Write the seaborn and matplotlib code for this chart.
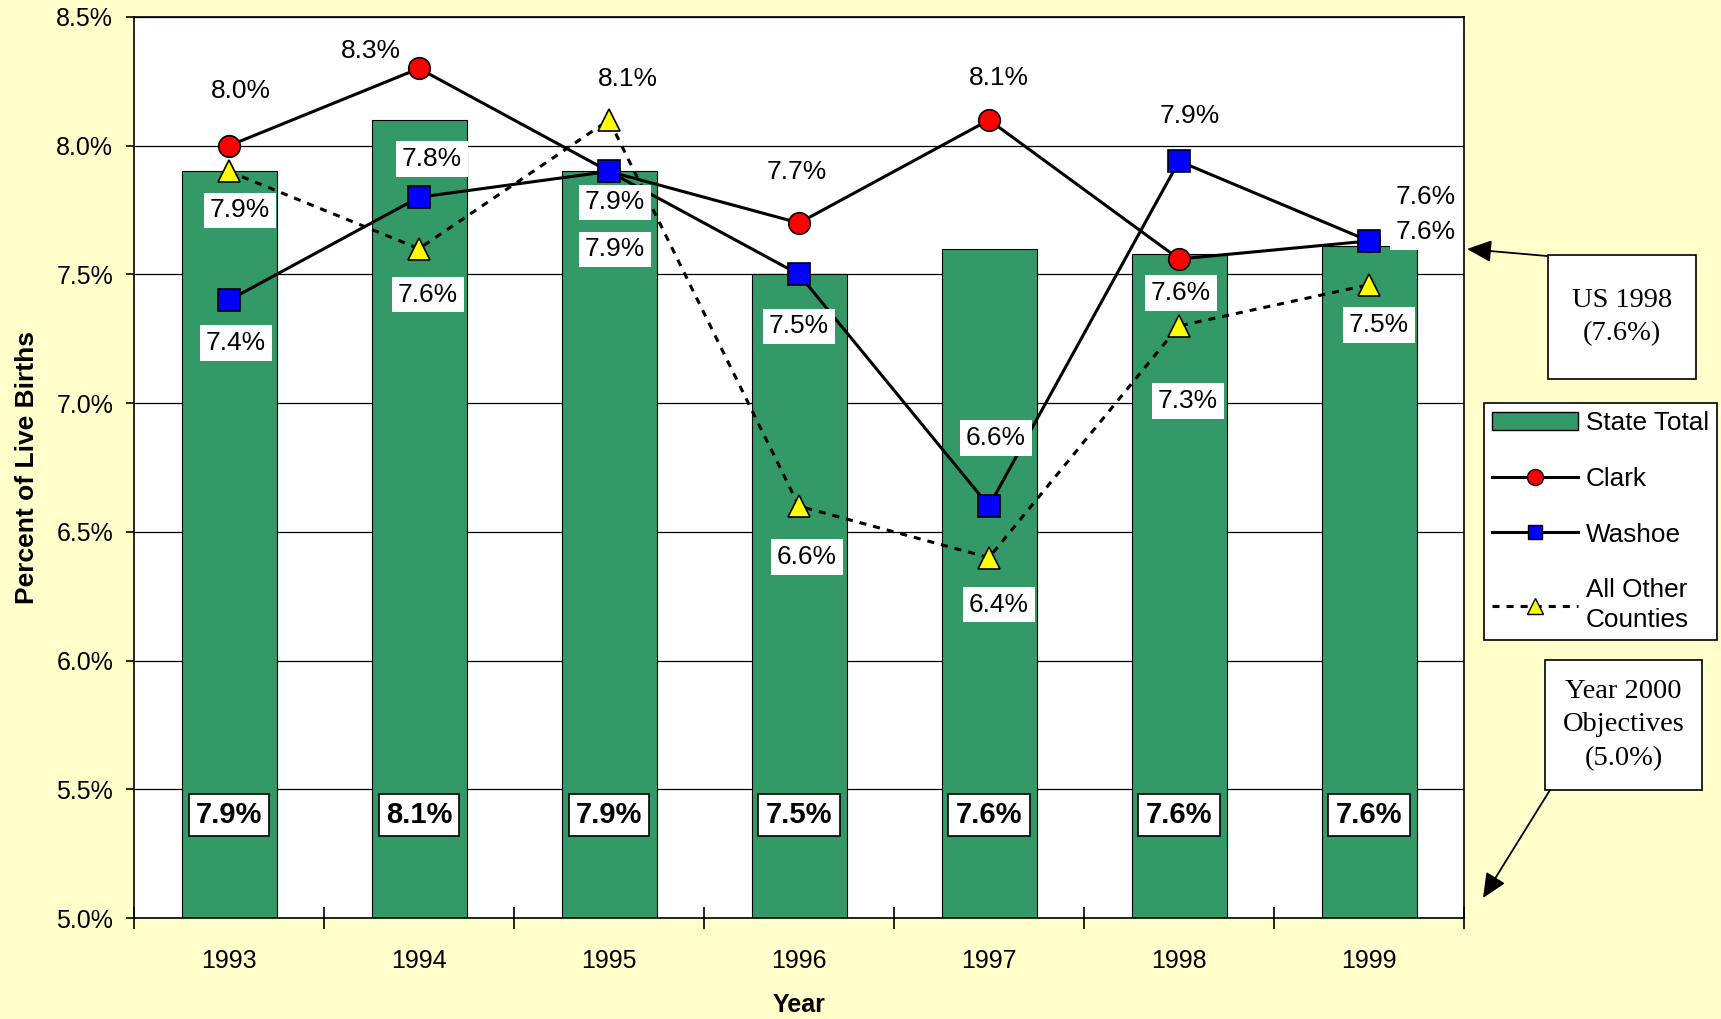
import matplotlib
matplotlib.use("Agg")
import matplotlib.pyplot as plt
import seaborn as sns
from matplotlib.patches import Patch, Rectangle, FancyArrowPatch, ArrowStyle
from matplotlib.lines import Line2D
from matplotlib.ticker import FuncFormatter, FixedLocator

# ---------------- data ----------------
years = ["1993", "1994", "1995", "1996", "1997", "1998", "1999"]
state_total = [7.9, 8.1, 7.9, 7.5, 7.6, 7.58, 7.61]
clark = [8.0, 8.3, 7.9, 7.7, 8.1, 7.56, 7.63]
washoe = [7.4, 7.8, 7.9, 7.5, 6.6, 7.94, 7.63]
all_other = [7.9, 7.6, 8.1, 6.6, 6.4, 7.3, 7.46]
y_ticks = [5.0, 5.5, 6.0, 6.5, 7.0, 7.5, 8.0, 8.5]
legend_labels = ["State Total", "Clark", "Washoe", "All Other\nCounties"]
us_note = "US 1998\n(7.6%)"
objective_note = "Year 2000\nObjectives\n(5.0%)"

# ---------------- style ----------------
W, H = 1721, 1019
BG = "#FFFFCC"
GREEN = "#339966"
plt.rcParams["font.family"] = ["Liberation Sans", "DejaVu Sans"]

fig = plt.figure(figsize=(W / 100, H / 100), dpi=100, facecolor=BG)
ax = fig.add_axes([134 / W, 1 - 918 / H, 1330 / W, 901 / H])
ax.set_facecolor("white")

# bars
sns.barplot(x=years, y=state_total, color=GREEN, saturation=1, width=0.5,
            edgecolor="black", linewidth=0.8, ax=ax, zorder=2)

# lines
line_kws = dict(errorbar=None, color="black", linewidth=2.2, markersize=15.5,
                markeredgecolor="black", markeredgewidth=1.2, ax=ax, zorder=3)
sns.pointplot(x=years, y=clark, marker="o", linestyle="-",
              markerfacecolor="red", **line_kws)
sns.pointplot(x=years, y=washoe, marker="s", linestyle="-",
              markerfacecolor="blue", **line_kws)
sns.pointplot(x=years, y=all_other, marker="^", linestyle=(0, (2.3, 2.3)),
              markerfacecolor="yellow", **line_kws)

# axes
ax.set_xlim(-0.5, 6.5)
ax.set_ylim(5.0, 8.5)
ax.set_yticks(y_ticks)
ax.yaxis.set_major_formatter(FuncFormatter(lambda v, p: f"{v:.1f}%"))
ax.yaxis.grid(True, color="black", linewidth=0.9)
ax.set_axisbelow(True)
for s in ax.spines.values():
    s.set_color("black")
    s.set_linewidth(1.2)
ax.tick_params(axis="y", direction="out", length=6, width=1.2, pad=9,
               labelsize=18, colors="black")
ax.tick_params(axis="x", which="major", length=0, pad=22, labelsize=18)
ax.xaxis.set_minor_locator(FixedLocator([i - 0.5 for i in range(len(years) + 1)]))
ax.tick_params(axis="x", which="minor", direction="inout", length=16, width=1.2)

ax.set_xlabel("Year", fontsize=18, fontweight="bold")
ax.xaxis.set_label_coords(0.5, -0.0837)
ax.set_ylabel("Percent of Live Births", fontsize=19, fontweight="bold")
ax.yaxis.set_label_coords(-0.0714, 0.5)

# data labels (offsets in pixels: dx, dy downward)
clark_off = [(12, -55), (-48, -17), (6, 78), (-2, -51), (10, -42), (2, 34), (57, -44)]
washoe_off = [(7, 43), (13, -38), (6, 31), (0, 52), (7, -68), (11, -45), (57, -9)]
other_off = [(11, 39), (9, 46), (19, -41), (8, 51), (10, 47), (9, 75), (10, 40)]
box = dict(boxstyle="square,pad=0.22", facecolor="white", edgecolor="none")
for series, offs in ((clark, clark_off), (washoe, washoe_off), (all_other, other_off)):
    for i, (v, (dx, dy)) in enumerate(zip(series, offs)):
        ax.annotate(f"{v:.1f}%", xy=(i, v), xytext=(dx, -dy),
                    textcoords="offset pixels", ha="center", va="center",
                    fontsize=19, bbox=box, zorder=6)

# bar value labels
bar_box = dict(boxstyle="square,pad=0.25", facecolor="white", edgecolor="black",
               linewidth=1.2)
for i, v in enumerate(state_total):
    ax.text(i, 5.40, f"{v:.1f}%", ha="center", va="center", fontsize=21,
            fontweight="bold", bbox=bar_box, zorder=7)

# legend
handles = [
    Patch(facecolor=GREEN, edgecolor="black", linewidth=1.0),
    Line2D([], [], color="black", lw=2.2, marker="o", ms=11.5,
           markerfacecolor="red", markeredgecolor="black"),
    Line2D([], [], color="black", lw=2.2, marker="s", ms=10.5,
           markerfacecolor="blue", markeredgecolor="black"),
    Line2D([], [], color="black", lw=2.2, ls=(0, (2.3, 2.3)), marker="^", ms=11.5,
           markerfacecolor="yellow", markeredgecolor="black"),
]
leg = fig.legend(handles, legend_labels, loc="upper left",
                 bbox_to_anchor=(1484 / W, 1 - 403 / H), borderaxespad=0,
                 fontsize=18.8, frameon=True, fancybox=False, framealpha=1,
                 edgecolor="black", handlelength=3.3, handletextpad=0.3,
                 labelspacing=1.22, borderpad=0.3)
leg.get_frame().set_linewidth(1.2)
leg.get_texts()[3].set_linespacing(1.3)


def fx(x):
    return x / W


def fy(y):
    return 1 - y / H


# note boxes
for (x0, y0, x1, y1), txt in (((1548, 255, 1696, 379), us_note),
                              ((1545, 660, 1702, 790), objective_note)):
    fig.add_artist(Rectangle((fx(x0), fy(y1)), (x1 - x0) / W, (y1 - y0) / H,
                             transform=fig.transFigure, facecolor="white",
                             edgecolor="black", linewidth=1.2))
    fig.text(fx((x0 + x1) / 2), fy((y0 + y1) / 2), txt, ha="center", va="center",
             fontsize=20.5, family="Liberation Serif", linespacing=1.45)

astyle = ArrowStyle("-|>", head_length=1.0, head_width=0.45)
for (xa, ya), (xb, yb) in (((1547, 256), (1467, 249)), ((1550, 790), (1483, 898))):
    fig.add_artist(FancyArrowPatch((fx(xa), fy(ya)), (fx(xb), fy(yb)),
                                   transform=fig.transFigure, arrowstyle=astyle,
                                   mutation_scale=15, color="black", lw=1.3,
                                   shrinkA=0, shrinkB=0))

fig.savefig("out.png", dpi=100, facecolor=BG)
